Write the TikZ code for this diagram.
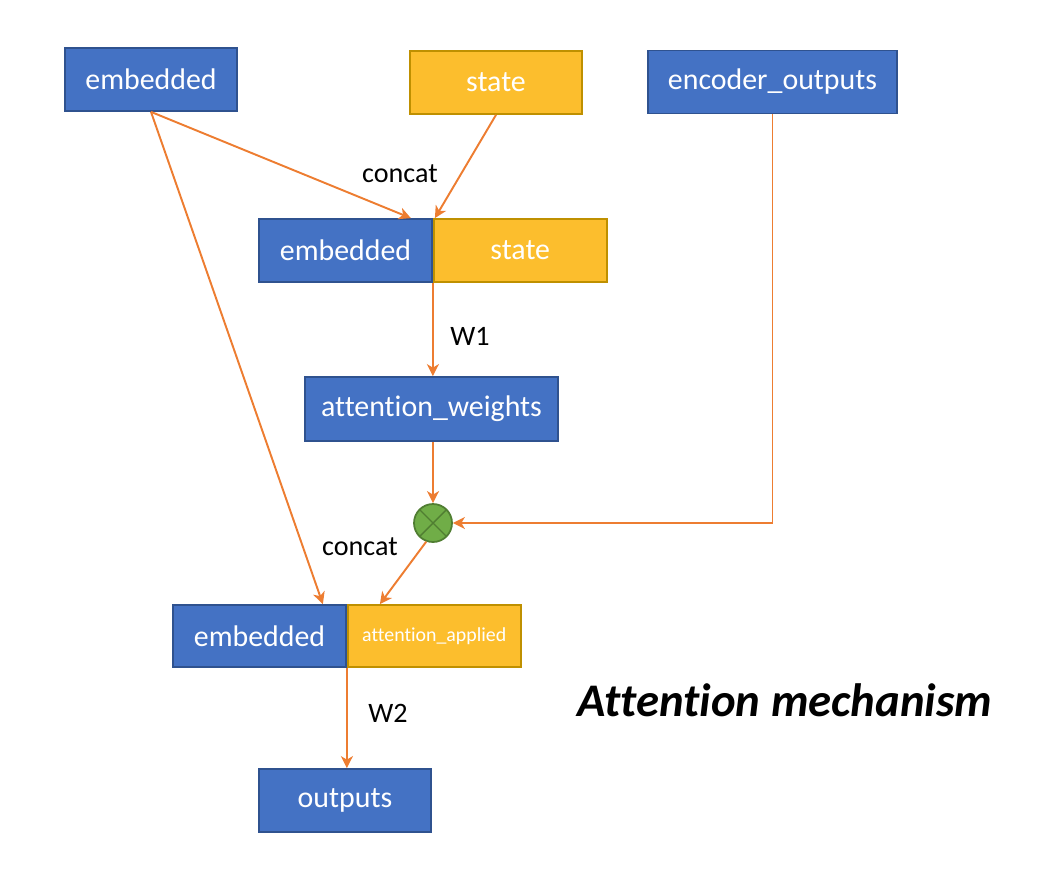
\documentclass[tikz,border=0pt]{standalone}
\usepackage{fontspec}
\setmainfont{Carlito}[Ligatures=NoCommon]
\usepackage{xcolor}
\usepackage{tikz}
\usetikzlibrary{positioning,arrows.meta,calc}
\definecolor{officeblue}{RGB}{68,114,196}
\definecolor{blueedge}{RGB}{47,82,143}
\definecolor{officegold}{RGB}{252,190,45}
\definecolor{goldedge}{RGB}{191,144,0}
\definecolor{flowor}{RGB}{237,125,49}
\definecolor{gategreen}{RGB}{112,173,71}
\definecolor{greenedge}{RGB}{80,126,50}
\tikzset{
  blue-node/.style={draw=blueedge, line width=1pt, fill=officeblue, text=white,
    minimum width=3.44cm, minimum height=1.26cm, inner sep=2pt, align=center,
    font=\fontsize{17}{20}\selectfont},
  gold-node/.style={draw=goldedge, line width=1pt, fill=officegold, text=white,
    minimum width=3.46cm, minimum height=1.26cm, inner sep=2pt, align=center,
    font=\fontsize{17}{20}\selectfont},
  gate-node/.style={circle, draw=greenedge, line width=1pt, fill=gategreen,
    minimum size=0.76cm, inner sep=0pt,
    path picture={\draw[greenedge, line width=0.8pt]
      (path picture bounding box.north west) -- (path picture bounding box.south east)
      (path picture bounding box.north east) -- (path picture bounding box.south west);}},
  flow-arrow/.style={-{Stealth[length=2.4mm, width=2.4mm, inset=0.7mm]}, line width=1.1pt, draw=flowor},
  edge-label/.style={font=\fontsize{16}{19}\selectfont, text=black}
}

\begin{document}
\begin{tikzpicture}
\useasboundingbox (0,0) rectangle (20.96,-17.6);

% Inputs
\node[blue-node] (emb-in) at (3.02,-1.59) {embedded};
\node[gold-node, minimum width=3.44cm] (state-in) at (9.92,-1.65) {state};
\node[blue-node, minimum width=4.98cm] (enc-out) at (15.45,-1.64) {encoder\_outputs};

% First concatenation
\node[blue-node, minimum width=3.46cm] (emb-cat) at (6.91,-5.01) {embedded};
\node[gold-node, right=0pt of emb-cat] (state-cat) {state};

% Weights and product
\node[blue-node, minimum width=5.06cm, minimum height=1.28cm] (att-w) at (8.63,-8.18) {attention\_weights};
\node[gate-node] (mul) at (8.66,-10.46) {};

% Second concatenation
\node[blue-node, minimum width=3.46cm, minimum height=1.24cm] (emb-app) at (5.19,-12.72) {embedded};
\node[gold-node, minimum height=1.24cm, right=0pt of emb-app, font=\fontsize{11.3}{13}\selectfont] (att-app) {attention\_applied};

% Output
\node[blue-node] (out) at (6.90,-16.01) {outputs};

% Connectors
\draw[flow-arrow] (emb-in.south) -- ([xshift=-0.44cm]emb-cat.north east);
\draw[flow-arrow] (state-in.south) -- ([xshift=0.04cm]state-cat.north west);
\draw[flow-arrow] (emb-in.south) -- ([xshift=-0.48cm]emb-app.north east);
\draw[flow-arrow] (emb-cat.south east) -- (emb-cat.south east |- att-w.north);
\draw[flow-arrow] (att-w.south -| mul.north) -- (mul.north);
\draw[flow-arrow] (enc-out.south) |- (mul.east);
\draw[flow-arrow] (mul.250) -- ([xshift=0.66cm]att-app.north west);
\draw[flow-arrow] (emb-app.south east) -- (emb-app.south east |- out.north);

% Labels
\node[edge-label] (lbl-cat1) at (8.0,-3.48) {concat};
\node[edge-label] (lbl-w1) at (9.4,-6.72) {W1};
\node[edge-label] (lbl-cat2) at (7.2,-10.94) {concat};
\node[edge-label] (lbl-w2) at (7.76,-14.26) {W2};
\node[font=\fontsize{26.6}{30}\selectfont\bfseries\itshape] (title) at (15.7,-14.0) {Attention mechanism};
\end{tikzpicture}
\end{document}
